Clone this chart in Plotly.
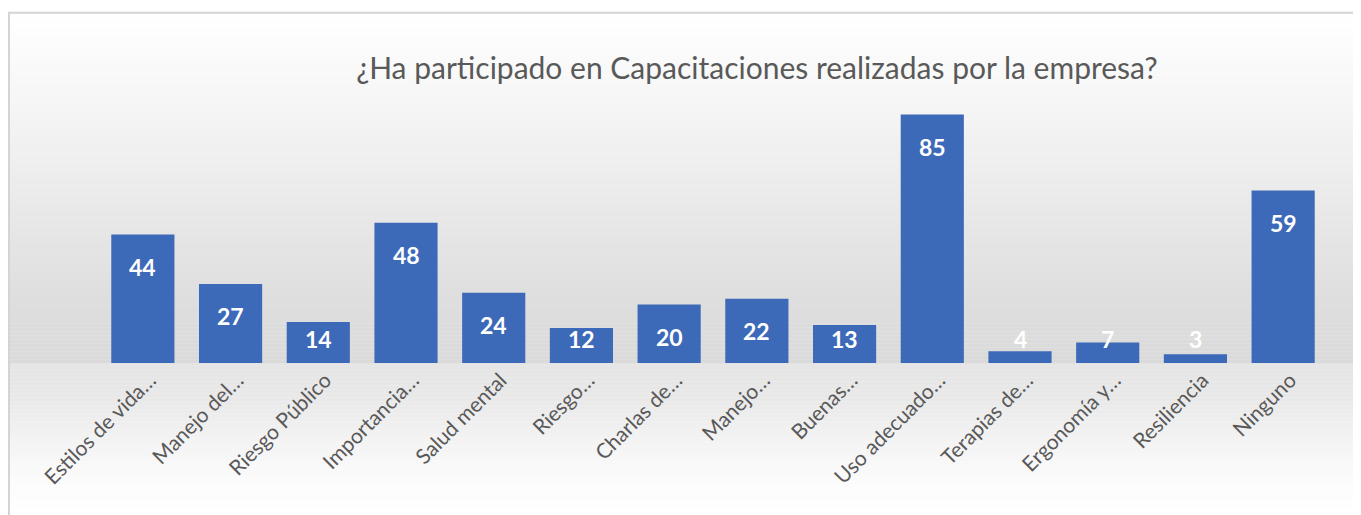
import plotly.graph_objects as go

categories = ["Estilos de vida…", "Manejo del…", "Riesgo Público", "Importancia…",
              "Salud mental", "Riesgo…", "Charlas de…", "Manejo…", "Buenas…",
              "Uso adecuado…", "Terapias de…", "Ergonomía y…", "Resiliencia", "Ninguno"]
values = [44, 27, 14, 48, 24, 12, 20, 22, 13, 85, 4, 7, 3, 59]
title_text = "¿Ha participado en Capacitaciones realizadas por la empresa?"

OFF = 8  # page body margin
W, H = 1361 - OFF, 515 - OFF
# page-pixel geometry of the plot area
PL, PR, PT, PB = 99, 1327, 100, 363.5
L, T = PL - OFF, PT - OFF
R = W - (PR - OFF)
B = H - (PB - OFF)
Y_MAX = 90

fig = go.Figure()
fig.add_trace(go.Bar(
    x=categories, y=values,
    marker=dict(color="#3d69b9", line=dict(width=0)),
    hoverinfo="x+y",
))

# value labels (inside end, clamped near the base for short bars)
for c, v in zip(categories, values):
    fig.add_annotation(x=c, y=max(v - 11, 8.3), text=str(v), showarrow=False,
                       font=dict(family="Lato", size=23, color="white", weight="bold"),
                       xref="x", yref="y", yanchor="middle")

plot_h = PB - PT
plot_w = PR - PL
def py(p):  # page y pixel -> paper
    return (PB - p) / plot_h
def px(p):  # page x pixel -> paper
    return (p - PL) / plot_w

stops = [(12, 255), (100, 246), (200, 234), (300, 222), (363.5, 218), (363.6, 228),
         (400, 233), (440, 243), (480, 251), (515, 255)]
def grey_at(p):
    for (a, ga), (b, gb) in zip(stops, stops[1:]):
        if a <= p <= b:
            return ga + (gb - ga) * (p - a) / (b - a)
    return 255

shapes = []
edges = list(range(12, 364, 4)) + [363.5] + list(range(366, 520, 4))
edges = sorted(set(edges))
for a, b in zip(edges, edges[1:]):
    g = int(round(grey_at((a + b) / 2)))
    shapes.append(dict(type="rect", xref="paper", yref="paper", layer="below",
                       x0=px(8), x1=px(1370), y0=py(b + 0.3), y1=py(a),
                       fillcolor=f"rgb({g},{g},{g})", line=dict(width=0)))
# chart border
shapes.append(dict(type="rect", xref="paper", yref="paper", layer="above",
                   x0=px(9), x1=px(1372), y0=py(530), y1=py(12.5),
                   fillcolor="rgba(0,0,0,0)", line=dict(color="#d4d4d4", width=2)))

fig.update_layout(
    width=W, height=H,
    margin=dict(l=L, r=R, t=T, b=B, pad=0),
    paper_bgcolor="white", plot_bgcolor="rgba(0,0,0,0)",
    shapes=shapes,
    bargap=0.28,
    showlegend=False,
    title=dict(text=title_text, x=px(757), xref="paper", xanchor="center",
               y=1 - (68 - OFF) / H, yref="container", yanchor="middle",
               font=dict(family="Lato", size=30, color="#595959")),
    xaxis=dict(tickangle=-45, tickfont=dict(family="Lato", size=21, color="#595959"),
               ticklabelshift=7,
               showline=False, showgrid=False, ticks="", zeroline=False),
    yaxis=dict(range=[0, Y_MAX], visible=False, showgrid=False, zeroline=False),
)

fig.write_html("out.html")
